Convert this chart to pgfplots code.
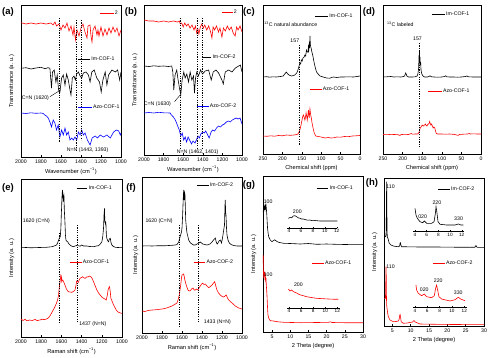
\documentclass[border=0pt]{standalone}
\usepackage{pgfplots}
\pgfplotsset{compat=1.18}
\usepackage{fontspec}
\setmainfont{Liberation Sans}
\newcommand{\fs}{\fontsize{5.2}{5.7}\selectfont}
\newcommand{\fl}{\fontsize{5.7}{6.2}\selectfont}
\newcommand{\leg}[5]{\draw[#1,line width=0.6pt] (axis cs:#2,#4) -- (axis cs:#3,#4) node[right,text=black,font=\fs,inner sep=1pt]{#5};}
\newcommand{\vd}[3]{\draw[black,line width=0.5pt,dash pattern=on 1.2pt off 1.2pt] (axis cs:#1,#2) -- (axis cs:#1,#3);}
\newcommand{\tx}[4][center]{\node[anchor=#1,font=\fs,inner sep=0pt] at (axis cs:#2,#3) {#4};}
\pgfplotsset{
 panel/.style={scale only axis, anchor=south west, clip=false, ytick=\empty, scaled x ticks=false,
   axis line style={line width=0.6pt}, tick align=inside, xtick pos=bottom,
   major tick length=2pt, every tick/.style={black, line width=0.5pt},
   ticklabel style={font=\fs, inner sep=1pt}, xticklabel style={yshift=-1.5pt},
   xlabel style={font=\fl, inner sep=1pt, yshift=-2.5pt},
   ylabel style={font=\fl, at={(axis description cs:-0.065,0.5)}, anchor=south, inner sep=0pt},
   /pgf/number format/assume math mode=true, /pgf/number format/1000 sep={},
   no markers, every axis plot/.append style={line width=0.6pt}},
 inset/.style={scale only axis, anchor=south west, clip=false, axis x line=bottom, axis y line=none,
   axis line style={-, line width=0.5pt}, xtick={4,6,8,10,12}, tick align=inside, major tick length=1.5pt,
   every tick/.style={black, line width=0.4pt},
   ticklabel style={font=\fontsize{4.7}{5}\selectfont, inner sep=1pt},
   /pgf/number format/assume math mode=true, no markers, every axis plot/.append style={line width=0.6pt}}
}
\begin{document}
\begin{tikzpicture}
\useasboundingbox (0pt,0pt) rectangle (494pt,357pt);
% ---------------- (a)
\begin{axis}[panel, at={(21pt,200pt)}, width=100pt, height=152pt, xmin=1000, xmax=2000, x dir=reverse,
  ymin=-157, ymax=-5, xtick={1000,1200,...,2000}, xlabel={Wavenumber (cm\textsuperscript{−1})}, ylabel={Transmittance (a. u.)}]
\addplot[red] coordinates {(2000,-22.7)(1950,-24)(1900,-23)(1850,-24)(1800,-23)(1750,-24)(1700,-23)(1680,-25)(1660,-22)(1645,-26)(1620,-24)(1600,-30)(1580,-25)(1560,-28)(1540,-23)(1520,-31)(1500,-26)(1480,-35)(1470,-27)(1455,-40)(1440,-30)(1420,-36)(1400,-28)(1380,-24)(1360,-32)(1340,-38)(1330,-26)(1310,-25)(1300,-36)(1290,-42)(1280,-30)(1260,-26)(1240,-35)(1230,-30)(1220,-36)(1200,-27)(1180,-36)(1160,-29)(1140,-35)(1120,-28)(1100,-33)(1080,-27)(1060,-32)(1040,-28)(1020,-36)(1000,-30)};
\addplot[black] coordinates {(2000,-68.3)(1950,-67.7)(1900,-69)(1850,-68)(1800,-67.3)(1760,-68.7)(1730,-67.7)(1711,-68.3)(1695,-88)(1685,-72)(1668,-70)(1651,-82)(1638,-75)(1624,-90)(1611,-92)(1594,-78)(1577,-75)(1560,-85)(1544,-74)(1527,-80)(1510,-90)(1500,-95)(1487,-78)(1470,-76)(1456,-80)(1443,-74)(1426,-72)(1409,-76)(1393,-78)(1376,-73)(1349,-72)(1326,-75)(1309,-82)(1292,-72)(1268,-70)(1242,-78)(1215,-82)(1198,-92)(1181,-80)(1158,-72)(1141,-85)(1124,-75)(1091,-70)(1057,-72)(1034,-70)(1013,-80)(1000,-72)};
\addplot[blue] coordinates {(2000,-113)(1950,-113.5)(1900,-112.8)(1850,-113.3)(1800,-113)(1778,-113.5)(1762,-115)(1745,-116)(1728,-118)(1711,-122)(1695,-127)(1678,-120)(1661,-123)(1645,-130)(1628,-125)(1611,-137)(1594,-130)(1577,-135)(1560,-128)(1544,-135)(1527,-132)(1510,-140)(1493,-138)(1477,-140)(1460,-137)(1443,-140)(1426,-132)(1409,-135)(1393,-130)(1376,-135)(1359,-133)(1336,-140)(1309,-145)(1289,-138)(1258,-136)(1235,-138)(1208,-135)(1174,-137)(1141,-135)(1107,-138)(1074,-132)(1047,-130)(1023,-131)(1007,-135)(1000,-133)};
\vd{1617}{-18}{-142}\vd{1443}{-20}{-150}\vd{1393}{-20}{-140}
\tx[west]{1993}{-98}{C=N (1620)}
\draw[line width=0.4pt] (axis cs:1711,-96.7) -- (axis cs:1604,-90);
\tx[west]{1544}{-150}{N=N (1443, 1393)}
\leg{red}{1208}{1074}{-13}{2}
\leg{black}{1426}{1309}{-59}{Im-COF-1}
\leg{blue}{1426}{1292}{-107}{Azo-COF-1}
\end{axis}
% ---------------- (b)
\begin{axis}[panel, at={(144pt,202pt)}, width=98pt, height=150pt, xmin=1000, xmax=2000, x dir=reverse,
  ymin=-155, ymax=-5, xtick={1000,1200,...,2000}, xlabel={Wavenumber (cm\textsuperscript{−1})}, ylabel={Transmittance (a. u.)}]
\addplot[red] coordinates {(2000,-20)(1950,-21)(1900,-21)(1850,-22)(1800,-21)(1750,-22)(1700,-21)(1660,-22)(1640,-21)(1630,-24)(1615,-23)(1600,-27)(1585,-23)(1565,-26)(1550,-24)(1530,-28)(1510,-25)(1490,-30)(1475,-26)(1462,-33)(1450,-29)(1440,-34)(1425,-27)(1410,-24)(1395,-28)(1380,-25)(1360,-30)(1340,-26)(1320,-32)(1307,-38)(1295,-27)(1280,-30)(1260,-26)(1240,-32)(1225,-28)(1205,-37)(1190,-28)(1170,-31)(1150,-26)(1130,-30)(1110,-27)(1090,-33)(1070,-36)(1055,-27)(1040,-30)(1020,-26)(1000,-32)};
\addplot[black] coordinates {(2000,-66)(1950,-66.5)(1900,-65.8)(1850,-66.3)(1800,-66)(1750,-66.5)(1717,-66)(1706,-72)(1696,-90)(1683,-75)(1666,-70)(1655,-78)(1638,-88)(1625,-95)(1611,-80)(1594,-72)(1580,-78)(1563,-74)(1546,-82)(1529,-72)(1512,-80)(1495,-76)(1485,-93)(1474,-78)(1461,-72)(1444,-76)(1423,-70)(1403,-74)(1375,-71)(1341,-70)(1314,-80)(1294,-72)(1266,-70)(1239,-73)(1205,-80)(1191,-84)(1171,-72)(1137,-70)(1102,-72)(1068,-68)(1034,-66)(1017,-65)(1000,-72)};
\addplot[blue] coordinates {(2000,-113)(1950,-112.5)(1900,-113)(1850,-112.3)(1800,-112.8)(1734,-113)(1720,-115)(1700,-117)(1680,-120)(1660,-125)(1640,-130)(1625,-136)(1610,-133)(1595,-140)(1580,-137)(1565,-142)(1550,-137)(1535,-140)(1515,-144)(1500,-141)(1480,-143)(1465,-140)(1450,-136)(1435,-138)(1420,-134)(1400,-132)(1385,-133)(1370,-131)(1350,-135)(1335,-138)(1315,-132)(1300,-130)(1280,-131)(1260,-128)(1240,-126)(1220,-127)(1200,-125)(1180,-124)(1160,-122)(1140,-121)(1120,-122)(1100,-120)(1080,-119)(1060,-118)(1040,-119)(1020,-118)(1000,-124)};
\vd{1631}{-18}{-148}\vd{1461}{-18}{-150}\vd{1403}{-18}{-148}
\tx[west]{2003}{-104}{C=N (1630)}
\draw[line width=0.4pt] (axis cs:1689,-101.7) -- (axis cs:1631,-95);
\tx[west]{1666}{-152}{N=N (1462, 1401)}
\leg{red}{1205}{1096}{-12}{2}
\leg{black}{1410}{1314}{-57}{Im-COF-2}
\leg{blue}{1461}{1341}{-106}{Azo-COF-2}
\end{axis}
% ---------------- (c)
\begin{axis}[panel, at={(263pt,203pt)}, width=97pt, height=149pt, xmin=0, xmax=250, x dir=reverse,
  ymin=-154, ymax=-5, xtick={0,50,...,250}, xlabel={Chemical shift (ppm)}]
\addplot[black] coordinates {(250,-77)(240,-76.7)(233,-77.2)(225,-76.8)(216,-77)(205,-76.5)(198,-76)(193,-73.5)(190,-72)(186,-74)(183,-75)(177,-76)(172,-75.5)(168,-75)(163,-73)(160,-70)(157,-66)(155,-63)(153,-64)(151,-60)(149,-61)(147,-58)(144,-57)(142,-55)(140,-56)(138,-50)(136,-52)(134,-52)(133,-47)(132,-50)(131,-45)(130,-48)(129,-36)(128,-44)(127,-47)(126,-48)(124,-52)(122,-55)(120,-59)(118,-63)(115,-68)(112,-72)(108,-74)(103,-76)(95,-77)(86,-78)(78,-78.2)(69,-77)(60,-77.5)(50,-77)(43,-77)(30,-76.8)(17,-77)(8,-76.5)(0,-76)};
\addplot[red] coordinates {(250,-136)(240,-136.3)(230,-135.8)(220,-136.2)(210,-135.5)(200,-135.8)(190,-135)(180,-135.3)(170,-135)(163,-134.5)(160,-134)(157,-132)(155,-130)(152,-125)(150,-121)(148,-117)(146,-115)(144,-117)(142,-120)(140,-116)(139,-113)(137,-117)(136,-120)(134,-114)(133,-110)(131,-118)(130,-114)(129,-109)(127,-115)(125,-119)(124,-122)(121,-128)(118,-133)(114,-136)(108,-136.5)(100,-137)(90,-138)(82,-137.5)(75,-138)(68,-137.8)(60,-137)(50,-137.2)(40,-136.5)(30,-136.7)(20,-136)(10,-135.8)(0,-135.5)};
\vd{157}{-45}{-145}
\tx{168}{-41}{157}
\tx[west]{247}{-24}{\textsuperscript{13}C natural abundance}
\leg{black}{116}{82}{-16}{Im-COF-1}
\leg{red}{129}{99}{-89}{Azo-COF-1}
\end{axis}
% ---------------- (d)
\begin{axis}[panel, at={(383pt,203pt)}, width=98pt, height=149pt, xmin=0, xmax=250, x dir=reverse,
  ymin=-154, ymax=-5, xtick={0,50,...,250}, xlabel={Chemical shift (ppm)}]
\addplot[black] coordinates {(250,-77)(240,-76.8)(230,-76.5)(222,-77)(215,-76.8)(205,-77)(198,-76.6)(195,-76)(192,-73)(189,-76)(185,-77)(175,-77)(168,-76.8)(163,-76)(161,-74)(159,-68)(158.5,-60)(158,-55)(157.5,-62)(157,-51)(156.5,-58)(156,-64)(155.5,-57)(155,-65)(154,-62)(153,-70)(151,-74)(148,-76)(144,-77)(137,-77)(133,-76.5)(130,-75.8)(127,-76.7)(120,-77)(110,-77.2)(100,-77)(93,-76.5)(90,-75.8)(87,-76.8)(80,-77)(70,-77)(60,-77.2)(50,-77)(40,-76.5)(36,-76)(32,-76.8)(20,-77)(10,-77)(0,-77)};
\addplot[red] coordinates {(250,-134.5)(240,-134.3)(230,-134.6)(220,-134.5)(210,-134.8)(207,-135.5)(204,-134.6)(195,-134.3)(185,-134.5)(178,-133.5)(175,-134.2)(168,-134)(162,-134)(159,-133)(157,-131)(155,-128)(153,-127)(150,-125)(147,-126)(144,-125)(142,-124)(140,-125.5)(138,-126)(136,-124.5)(134,-124)(132,-123)(131,-121.5)(130,-123)(128,-125)(126,-124)(124,-126)(122,-128)(120,-127)(118,-128)(116,-131)(114,-133.5)(110,-134)(100,-134)(90,-134.2)(80,-134)(70,-134.3)(62,-135)(58,-135.3)(55,-134.5)(45,-134.2)(35,-134)(30,-133.5)(27,-134)(20,-133.8)(10,-134)(0,-134)};
\vd{157}{-43}{-148}
\tx{162}{-39}{157}
\tx[west]{240}{-24}{\textsuperscript{13}C labeled}
\leg{black}{126}{92}{-14}{Im-COF-1}
\leg{red}{134}{100}{-91}{Azo-COF-1}
\end{axis}
% ---------------- (e)
\begin{axis}[panel, at={(21pt,20pt)}, width=101pt, height=158pt, xmin=1000, xmax=2000, x dir=reverse,
  ymin=-337, ymax=-179, xtick={1000,1200,...,2000}, xlabel={Raman shift (cm\textsuperscript{−1})}, ylabel={Intensity (a. u.)}]
\addplot[black] coordinates {(2000,-247.7)(1950,-247.5)(1900,-247.8)(1880,-247.7)(1820,-247.5)(1748,-247.3)(1700,-246.8)(1681,-246.3)(1660,-245.5)(1648,-245)(1638,-243)(1631,-241)(1621,-238.3)(1611,-236.7)(1605,-228)(1601,-215)(1597,-205)(1595,-198.3)(1591,-192)(1588,-190)(1585,-197)(1581,-201.7)(1578,-196)(1575,-195)(1571,-210)(1565,-221.7)(1560,-235)(1555,-240)(1545,-241.5)(1538,-241.7)(1525,-244)(1515,-245)(1500,-246)(1482,-246.7)(1465,-246)(1450,-245.5)(1432,-245.7)(1415,-246.2)(1399,-245)(1380,-246)(1349,-246)(1320,-246.5)(1282,-246.7)(1255,-246)(1233,-245.7)(1215,-244)(1199,-241.7)(1190,-236)(1183,-228.3)(1178,-215)(1173,-208.3)(1170,-222)(1166,-221.7)(1162,-225)(1160,-221.7)(1155,-235)(1150,-238.3)(1140,-241)(1133,-241.7)(1125,-239)(1116,-238.3)(1108,-243)(1100,-245)(1085,-246.5)(1066,-247.3)(1040,-247.5)(1000,-247.7)};
\addplot[red] coordinates {(2000,-319)(1980,-320.5)(1960,-319.3)(1940,-320.8)(1914,-320)(1890,-320.5)(1860,-319.5)(1840,-320.6)(1814,-320)(1790,-319.2)(1770,-319.6)(1748,-319)(1730,-318)(1714,-316)(1700,-313.5)(1681,-310)(1665,-307)(1648,-303)(1638,-300)(1628,-295)(1621,-287)(1615,-283)(1605,-275)(1600,-276)(1598,-281.7)(1590,-280)(1581,-281)(1573,-283)(1565,-285)(1550,-289)(1532,-291.7)(1515,-292)(1498,-292.3)(1480,-291.5)(1465,-290)(1455,-285)(1449,-281)(1440,-281.5)(1432,-282.3)(1424,-280)(1415,-278.3)(1400,-277.5)(1389,-276.7)(1375,-278)(1365,-278.3)(1350,-277)(1332,-276.7)(1320,-276)(1309,-276.7)(1295,-278.5)(1282,-281.7)(1265,-286)(1249,-290)(1232,-293)(1216,-295)(1200,-297)(1183,-298.3)(1170,-299)(1156,-300)(1145,-295)(1138,-290)(1133,-288.3)(1123,-286.7)(1116,-292)(1110,-298.3)(1095,-302)(1083,-305)(1070,-307.5)(1057,-310)(1045,-311.5)(1033,-312.3)(1015,-313)(1000,-313.3)};
\vd{1621}{-233}{-323}\vd{1439}{-225}{-322}
\tx[west]{1983}{-221}{1620 (C=N)}
\tx[west]{1425}{-324}{1437 (N=N)}
\leg{black}{1449}{1342}{-188}{Im-COF-1}
\leg{red}{1515}{1399}{-262}{Azo-COF-1}
\end{axis}
% ---------------- (f)
\begin{axis}[panel, at={(142pt,24pt)}, width=100pt, height=156pt, xmin=1000, xmax=2000, x dir=reverse,
  ymin=-333, ymax=-177, xtick={1000,1200,...,2000}, xlabel={Raman shift (cm\textsuperscript{−1})}, ylabel={Intensity (a. u.)},
  ylabel style={at={(axis description cs:-0.035,0.5)}}]
\addplot[black] coordinates {(2000,-246)(1950,-245.8)(1900,-246)(1833,-245.7)(1780,-245.8)(1700,-245.3)(1670,-245)(1650,-244.5)(1633,-242)(1617,-236)(1605,-232)(1600,-228)(1595,-218)(1590,-205)(1586,-195)(1583,-190)(1580,-196)(1577,-200)(1574,-193)(1570,-195)(1566,-210)(1563,-220)(1556,-228)(1550,-233)(1540,-237)(1533,-240)(1515,-243)(1500,-244)(1485,-245)(1467,-245)(1450,-244)(1430,-243)(1417,-242)(1405,-243)(1393,-244)(1370,-244.5)(1350,-245)(1320,-244)(1300,-242)(1285,-240)(1275,-239)(1267,-238)(1258,-242)(1248,-244)(1240,-243)(1230,-241)(1217,-240)(1205,-243)(1195,-238)(1183,-230)(1175,-225)(1170,-205)(1167,-200)(1164,-212)(1160,-215)(1155,-228)(1150,-235)(1140,-240)(1127,-243)(1110,-244.5)(1083,-245.5)(1050,-246)(1000,-246)};
\addplot[red] coordinates {(2000,-311)(1970,-311.5)(1940,-310.5)(1900,-310)(1870,-309.8)(1840,-309.5)(1800,-309)(1770,-308.5)(1740,-307.5)(1700,-306)(1675,-304.5)(1650,-303)(1640,-300)(1627,-295)(1620,-290)(1613,-285)(1605,-278)(1600,-275)(1590,-274.5)(1583,-274)(1575,-278)(1567,-282)(1555,-286)(1540,-290)(1528,-291)(1517,-290.7)(1505,-289)(1490,-288)(1478,-290)(1467,-290)(1455,-289)(1440,-290)(1428,-287.5)(1417,-286)(1405,-284)(1393,-283.3)(1380,-284.5)(1367,-284)(1350,-286)(1333,-287.7)(1317,-286.5)(1300,-285)(1285,-283)(1273,-281.7)(1262,-286)(1250,-290)(1235,-293)(1217,-295)(1200,-296.5)(1183,-297)(1170,-296)(1157,-295)(1145,-298)(1133,-300)(1117,-301.5)(1100,-303)(1083,-304.5)(1067,-306)(1050,-307)(1033,-308)(1015,-308.5)(1000,-309)};
\vd{1623}{-225}{-327}\vd{1433}{-225}{-323}
\tx[west]{1967}{-221}{1620 (C=N)}
\tx[west]{1383}{-322}{1433 (N=N)}
\leg{black}{1450}{1333}{-185}{Im-COF-2}
\leg{red}{1483}{1367}{-262}{Azo-COF-2}
\end{axis}
% ---------------- (g)
\begin{axis}[panel, at={(263pt,25pt)}, width=100pt, height=156pt, xmin=2.5, xmax=30,
  ymin=-332, ymax=-176, xtick={5,10,...,30}, xlabel={2 Theta (degree)}, ylabel={Intensity (a. u.)}]
\addplot[black] coordinates {(2.55,-212)(2.65,-208)(2.75,-206)(2.85,-210)(2.95,-205.7)(3.05,-209)(3.15,-205.5)(3.25,-208)(3.35,-206)(3.45,-210)(3.55,-215)(3.65,-222)(3.75,-228)(3.9,-233)(4.06,-236.7)(4.3,-238.5)(4.5,-240)(4.97,-241.7)(5.4,-240.5)(5.7,-239.8)(5.89,-240.3)(6.35,-241.5)(6.8,-242.3)(8.2,-243.3)(10,-243.5)(12.8,-244)(15,-243.5)(17.3,-244.3)(20,-244)(22.5,-244.3)(25,-244.5)(28,-244.3)(30,-244.3)};
\addplot[red] coordinates {(2.55,-255)(2.6,-268)(2.68,-278)(2.77,-272)(2.86,-276)(2.96,-271.7)(3.05,-280)(3.14,-274)(3.23,-282)(3.32,-278)(3.42,-286)(3.51,-290)(3.6,-296)(3.69,-303)(3.78,-310)(3.87,-315)(4.06,-318)(4.3,-319.5)(4.5,-320.7)(5.4,-321)(6.35,-321.7)(8.2,-322.3)(12.8,-322.7)(17.3,-322.5)(20.5,-322.3)(21,-321.8)(21.5,-322.5)(25,-322.7)(30,-322.7)};
\tx{3.9}{-201.5}{100}
\tx{3.9}{-274.3}{100}
\leg{black}{17.3}{20.5}{-188}{Im-COF-1}
\leg{red}{16}{19.2}{-263}{Azo-COF-1}
\end{axis}
\begin{axis}[inset, at={(287.3pt,129pt)}, width=50pt, height=20pt, xmin=3.72, xmax=12.1, ymin=-228, ymax=-208]
\addplot[black] coordinates {(3.89,-218.3)(4.17,-217.5)(4.45,-217.7)(4.72,-216)(5.0,-215.7)(5.28,-216.7)(5.56,-217.8)(5.84,-218.3)(6.12,-219)(6.4,-219)(6.68,-219.5)(6.96,-220)(7.24,-220.2)(7.52,-220)(7.8,-220.5)(8.08,-220.7)(8.36,-220.5)(8.64,-220.7)(9.2,-221)(9.75,-221)(10.5,-221)(11.3,-221)(12.1,-221)};
\tx{5.4}{-211.7}{200}
\end{axis}
\begin{axis}[inset, at={(287.3pt,49pt)}, width=52.7pt, height=25pt, xmin=3.72, xmax=12.44, ymin=-308, ymax=-283]
\addplot[red] coordinates {(3.89,-289)(4.17,-291)(4.44,-290)(4.7,-291.5)(4.99,-292.3)(5.25,-293)(5.55,-294)(5.9,-295)(6.38,-295.7)(6.9,-296.7)(7.48,-297.3)(8.0,-297.8)(8.59,-298.3)(9.1,-298.5)(9.69,-298.7)(10.5,-299)(11.3,-299.2)(12.18,-299.3)};
\tx{5.55}{-285}{200}
\end{axis}
% ---------------- (h)
\begin{axis}[panel, at={(384pt,31pt)}, width=100pt, height=148pt, xmin=2.7, xmax=30,
  ymin=-326, ymax=-178, xtick={5,10,...,30}, xlabel={2 Theta (degree)}, ylabel={Intensity (a. u.)}]
\addplot[black] coordinates {(2.8,-237)(2.95,-236.5)(3.1,-236.7)(3.25,-235)(3.32,-220)(3.38,-195)(3.43,-181.7)(3.48,-200)(3.52,-230)(3.6,-237)(3.79,-238.3)(3.95,-241)(4.15,-243.3)(4.6,-245)(5.25,-246)(6.0,-246.5)(6.6,-246.7)(6.95,-246)(7.1,-243)(7.2,-242.7)(7.3,-245)(7.5,-246.7)(9,-246.8)(12.5,-247)(17,-247)(22,-247.2)(26.15,-247.3)(27.5,-247.2)(27.8,-245.5)(28.1,-247.3)(30,-247.3)};
\addplot[red] coordinates {(2.75,-298.3)(3.1,-298.3)(3.18,-285)(3.22,-270)(3.25,-266.7)(3.3,-275)(3.36,-295)(3.42,-305)(3.52,-308.3)(3.7,-313)(3.88,-316.7)(4.34,-320)(5.25,-321.7)(6.0,-321.5)(6.6,-321)(6.85,-319)(7.0,-315)(7.1,-314.5)(7.25,-318)(7.4,-321.7)(7.97,-323.3)(9,-323)(10.5,-322)(10.88,-320.5)(11.2,-322)(12.52,-324)(17.06,-324.3)(22,-324.5)(30,-324.7)};
\tx{4.5}{-186.7}{110}
\tx{4.5}{-266.7}{110}
\leg{black}{17.5}{20.7}{-189}{Im-COF-2}
\leg{red}{16.2}{19.3}{-263}{Azo-COF-2}
\end{axis}
\begin{axis}[inset, at={(413.3pt,125.3pt)}, width=50.7pt, height=31.7pt, xmin=3.71, xmax=12.39, ymin=-231.7, ymax=-200]
\addplot[black] coordinates {(4.0,-208.3)(4.17,-215)(4.4,-218.3)(4.86,-221.7)(5.31,-222.7)(5.6,-221)(6.0,-223.3)(6.86,-223.3)(7.26,-221.7)(7.49,-213.3)(7.6,-206.7)(7.77,-213.3)(7.94,-221.7)(8.29,-224.3)(9.43,-225)(10.86,-225)(11.43,-224)(11.83,-225)(12.29,-225)};
\tx{5.31}{-216.7}{020}
\tx{7.74}{-203}{220}
\tx{11.46}{-219}{330}
\end{axis}
\begin{axis}[inset, at={(413.3pt,49.3pt)}, width=53.3pt, height=27.7pt, xmin=3.73, xmax=12.38, ymin=-307.7, ymax=-280]
\addplot[red] coordinates {(4.16,-285)(4.27,-290)(4.54,-293.3)(5.08,-295.7)(5.51,-294)(5.89,-296.7)(6.7,-297.7)(7.14,-295.7)(7.35,-288.3)(7.51,-285)(7.68,-290)(7.89,-296.7)(8.32,-299)(9.68,-301)(10.49,-299.7)(11.03,-297.3)(11.41,-299)(12.11,-300.7)};
\tx{5.51}{-290}{020}
\tx{7.78}{-281}{220}
\tx{11.03}{-292.3}{330}
\end{axis}
% panel letters
\begin{scope}[every node/.style={font=\bfseries\fontsize{9.5}{9.5}\selectfont, inner sep=0pt}]
\node at (8pt,345pt) {(a)};
\node at (131pt,345pt) {(b)};
\node at (249pt,345pt) {(c)};
\node at (369pt,345pt) {(d)};
\node at (8pt,169pt) {(e)};
\node at (131pt,169pt) {(f)};
\node at (249pt,172pt) {(g)};
\node at (372pt,174pt) {(h)};
\end{scope}
\end{tikzpicture}
\end{document}
